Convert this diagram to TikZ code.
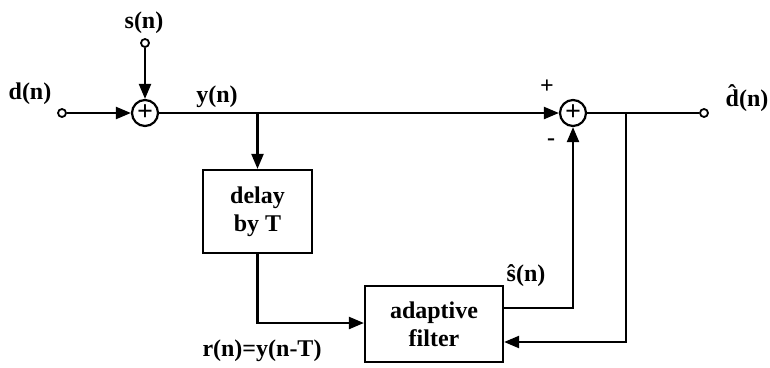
\documentclass[tikz,border=0pt]{standalone}
\usepackage{fontspec}
\setmainfont{Liberation Serif}
\usetikzlibrary{arrows.meta}
\begin{document}
\begin{tikzpicture}[x=1pt,y=-1pt,line width=2.2pt,
  lab/.style={font=\fontsize{24}{26}\selectfont\bfseries,inner sep=0pt},
  sumnode/.style={circle,draw,minimum size=26pt,inner sep=0pt,font=\fontsize{28}{28}\selectfont\bfseries},
  term/.style={circle,draw,minimum size=8pt,inner sep=0pt,line width=1.8pt,fill=white},
  blk/.style={draw,rectangle,inner sep=0pt,align=center,font=\fontsize{24}{28}\selectfont\bfseries},
  arr/.style={-{Triangle[length=15pt,width=12pt]}}]
\useasboundingbox (0,0) rectangle (770,367);
% nodes
\node[term] (din) at (62,113) {};
\node[sumnode] (s1) at (145,113) {+};
\node[term] (sin) at (145,43) {};
\coordinate (b1) at (256,113);
\node[blk,minimum width=109pt,minimum height=83pt] (delay) at (257.5,211.5) {delay\\by T};
\node[blk,minimum width=138pt,minimum height=76pt] (af) at (434,324) {adaptive\\filter};
\node[sumnode] (s2) at (573,113) {+};
\coordinate (b2) at (626,113);
\node[term] (dout) at (704,113) {};
\coordinate (c1) at (delay.south |- 0,323);
\coordinate (c2) at (s2.south |- 0,308);
\coordinate (c3) at (b2 |- 0,342);
% labels
\node[lab] (ls) at (144,23) {s(n)};
\node[lab] (ld) at (30,94) {d(n)};
\node[lab] (ly) at (217,97) {y(n)};
\node[lab] (lp) at (547,87) {+};
\node[lab] (lm) at (551,142) {-};
\node[lab] (lsh) at (526,276) {\^s(n)};
\node[lab] (ldh) at (747,98) {\^d(n)};
\node[lab] (lr) at (262,351) {r(n)=y(n-T)};
% connectors
\draw[arr] (din) -- (s1);
\draw[arr] (sin) -- (s1);
\draw (s1) -- (b1);
\draw[arr] (b1) -- (s2);
\draw[arr] (b1 -| delay.north) -- (delay.north);
\draw[arr] (delay.south) -- (c1) -- (af.west |- c1);
\draw[arr] (af.east |- c2) -- (c2) -- (s2.south);
\draw (s2) -- (b2);
\draw (b2) -- (dout);
\draw[arr] (b2) -- (c3) -- (af.east |- c3);
\end{tikzpicture}
\end{document}
